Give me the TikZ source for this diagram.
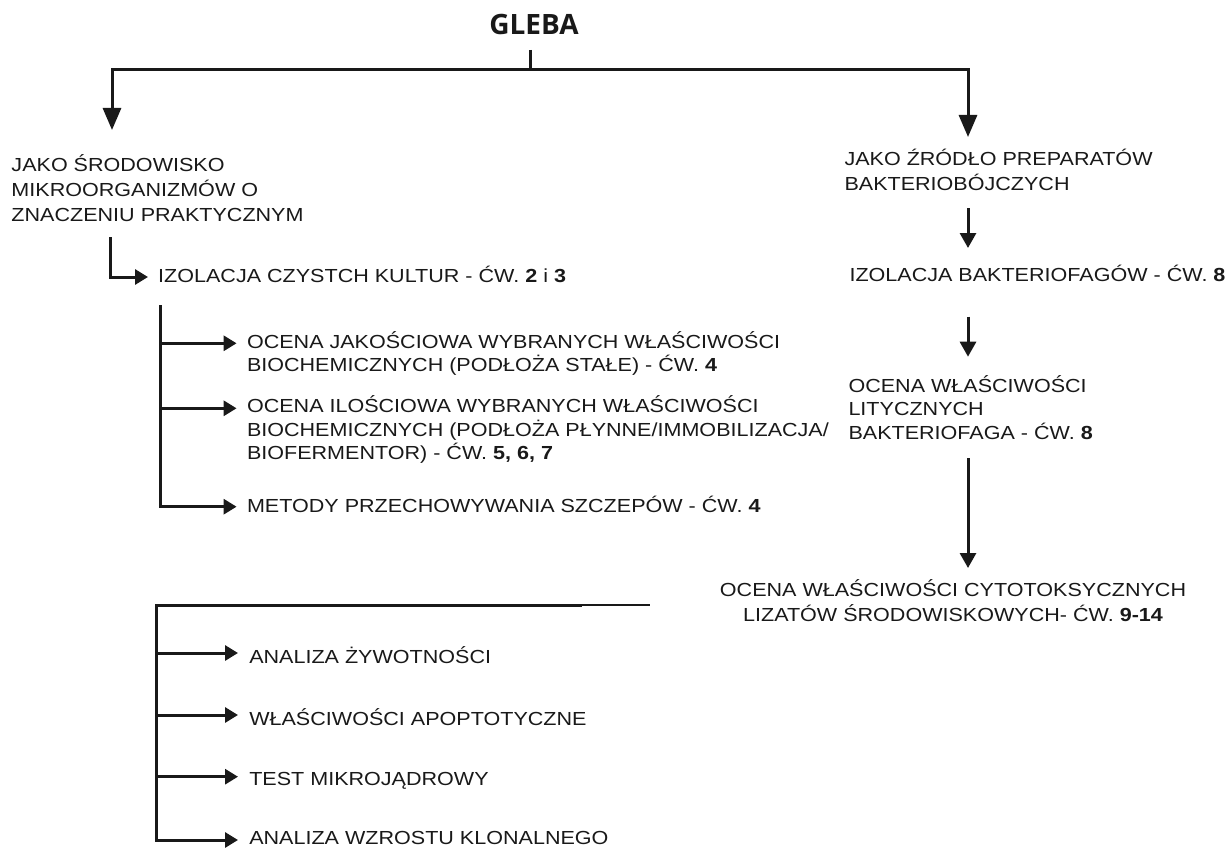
\documentclass[tikz,border=0pt]{standalone}
\usepackage{fontspec}
\setmainfont{Liberation Sans}[FakeStretch=1.14]
\newfontfamily\glebafont{Open Sans}
\usetikzlibrary{arrows.meta}
\definecolor{ink}{gray}{0.1}
\begin{document}
\begin{tikzpicture}[x=1pt,y=-1pt, line width=3pt, line join=miter, draw=ink, color=ink,
  txt/.style={anchor=base west, inner sep=0pt, align=left, text=ink, font=\fontsize{18.9}{24}\selectfont},
  tight/.style={font=\fontsize{18.9}{23.4}\selectfont},
  bigtip/.style={-{Triangle[length=22pt,width=18pt]}},
  midtip/.style={-{Triangle[length=15pt,width=16pt]}},
  smalltip/.style={-{Triangle[length=13pt,width=15pt]}}]
\useasboundingbox (0,0) rectangle (1225,848);

% title
\node[anchor=base, inner sep=0pt, text=ink, font=\glebafont\bfseries\fontsize{28}{30}\selectfont] (gleba) at (534,35) {GLEBA};

% text nodes (multi-line nodes are placed by the baseline of their last line)
\node[txt, font=\fontsize{18.9}{25}\selectfont] (jakoL) at (10,221.7) {JAKO ŚRODOWISKO\\MIKROORGANIZMÓW O\\ZNACZENIU PRAKTYCZNYM};
\node[txt, font=\fontsize{18.9}{25}\selectfont] (jakoR) at (843,190) {JAKO ŹRÓDŁO PREPARATÓW\\BAKTERIOBÓJCZYCH};
\node[txt] (izoL) at (156.7,282.7) {IZOLACJA CZYSTCH KULTUR - ĆW. \textbf{2} i \textbf{3}};
\node[txt] (izoR) at (848,281.7) {IZOLACJA BAKTERIOFAGÓW - ĆW. \textbf{8}};
\node[txt, tight] (ocJak) at (245.5,371.7) {OCENA JAKOŚCIOWA WYBRANYCH WŁAŚCIWOŚCI\\BIOCHEMICZNYCH (PODŁOŻA STAŁE) - ĆW. \textbf{4}};
\node[txt, tight] (ocIl) at (245.5,459.5) {OCENA ILOŚCIOWA WYBRANYCH WŁAŚCIWOŚCI\\BIOCHEMICZNYCH (PODŁOŻA PŁYNNE/IMMOBILIZACJA/\\BIOFERMENTOR) - ĆW. \textbf{5, 6, 7}};
\node[txt] (metody) at (245.5,512.7) {METODY PRZECHOWYWANIA SZCZEPÓW - ĆW. \textbf{4}};
\node[txt, tight] (ocLit) at (847,439) {OCENA WŁAŚCIWOŚCI\\LITYCZNYCH\\BAKTERIOFAGA - ĆW. \textbf{8}};
\node[txt, anchor=base, align=center, font=\fontsize{18.9}{25}\selectfont] (ocCyt) at (953,621.7) {OCENA WŁAŚCIWOŚCI CYTOTOKSYCZNYCH\\LIZATÓW ŚRODOWISKOWYCH- ĆW. \textbf{9-14}};
\node[txt] (an1) at (247.8,663) {ANALIZA ŻYWOTNOŚCI};
\node[txt] (an2) at (247.8,725) {WŁAŚCIWOŚCI APOPTOTYCZNE};
\node[txt] (an3) at (247.8,785) {TEST MIKROJĄDROWY};
\node[txt] (an4) at (247.8,844) {ANALIZA WZROSTU KLONALNEGO};

% coordinates
\coordinate (stem) at (530,50);
\coordinate (hub) at (530,70);
\coordinate (tipL) at (112,130);
\coordinate (tipR) at (968,137);
\coordinate (eL1) at (110,237);
\coordinate (tipIzoL) at (148,277);
\coordinate (vA) at (160.7,305);
\coordinate (tA1) at (236.6,343.3);
\coordinate (tA2) at (236.6,408.3);
\coordinate (tA3) at (236.6,506.7);
\coordinate (r1a) at (968,208);
\coordinate (r1b) at (968,248);
\coordinate (r2a) at (968,316.7);
\coordinate (r2b) at (968,356.7);
\coordinate (r3a) at (968,458);
\coordinate (r3b) at (968,568);
\coordinate (hB) at (582,605);
\coordinate (hBend) at (650,605);
\coordinate (vB) at (156,605);
\coordinate (tB1) at (238,653);
\coordinate (tB2) at (238,715);
\coordinate (tB3) at (238,776.7);
\coordinate (tB4) at (238,840);

% top split
\draw (stem) -- (hub);
\draw[bigtip] (hub) -| (tipL);
\draw[bigtip] (hub) -| (tipR);

% left branch
\draw[smalltip] (eL1) |- (tipIzoL);
\draw[smalltip] (vA) |- (tA3);
\draw[smalltip] (vA |- tA1) -- (tA1);
\draw[smalltip] (vA |- tA2) -- (tA2);

% right column
\draw[midtip] (r1a) -- (r1b);
\draw[midtip] (r2a) -- (r2b);
\draw[midtip] (r3a) -- (r3b);

% bottom bracket
\draw[line width=2pt] (hB) -- (hBend);
\draw[smalltip] (hB) -- (vB) |- (tB4);
\draw[smalltip] (vB |- tB1) -- (tB1);
\draw[smalltip] (vB |- tB2) -- (tB2);
\draw[smalltip] (vB |- tB3) -- (tB3);
\end{tikzpicture}
\end{document}
